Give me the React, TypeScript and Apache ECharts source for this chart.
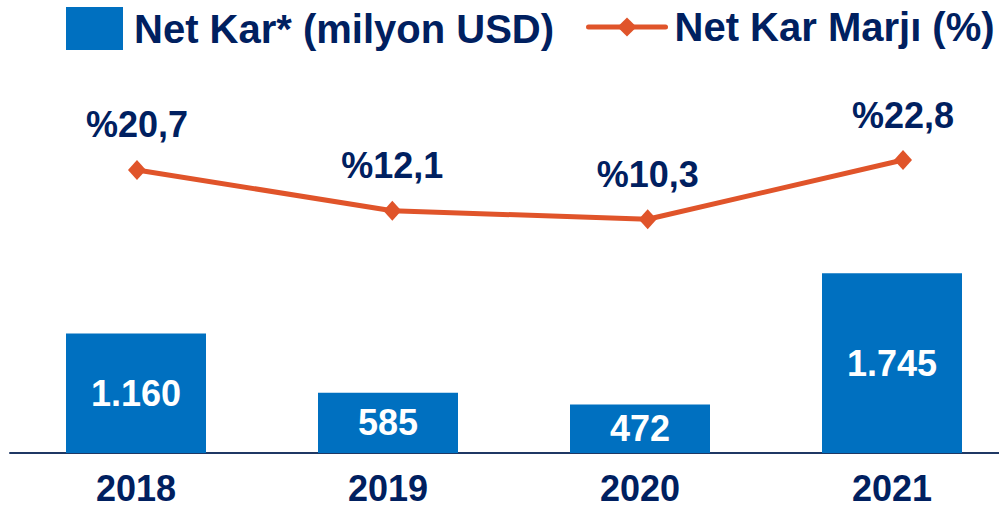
import React, { useEffect, useRef } from "react";
import * as echarts from "echarts";

const years = ["2018", "2019", "2020", "2021"];
const netKar = [1160, 585, 472, 1745];
const netKarMarji = [20.7, 12.1, 10.3, 22.8];
const barName = "Net Kar* (milyon USD)";
const lineName = "Net Kar Marjı (%)";

const NAVY = "#002060";
const BLUE = "#0070C0";
const ORANGE = "#E0542A";
const FONT = "'Liberation Sans', Arial, sans-serif";
const CHART_W = 1040;

const fmtThousands = (v: number) =>
  String(Math.round(v)).replace(/\B(?=(\d{3})+(?!\d))/g, ".");
const fmtPct = (v: number) => "%" + v.toFixed(1).replace(".", ",");

export default function App() {
  const ref = useRef<HTMLDivElement>(null);
  useEffect(() => {
    if (!ref.current) return;
    const chart = echarts.init(ref.current, null, { renderer: "svg" });
    chart.setOption({
      animation: false,
      backgroundColor: "#ffffff",
      textStyle: { fontFamily: FONT },
      legend: [
        {
          data: [{ name: barName, icon: "rect" }],
          left: 66,
          top: 7,
          padding: 0,
          itemWidth: 57,
          itemHeight: 43,
          selectedMode: false,
          textStyle: {
            fontFamily: FONT,
            fontSize: 40,
            fontWeight: "bold",
            color: NAVY,
            padding: [0, 0, 0, 6],
          },
        },
        {
          data: [lineName],
          left: 586,
          top: 7,
          padding: 0,
          itemWidth: 77,
          itemHeight: 24,
          selectedMode: false,
          lineStyle: { width: 5, cap: "round", color: ORANGE },
          textStyle: {
            fontFamily: FONT,
            fontSize: 40,
            fontWeight: "bold",
            color: NAVY,
            padding: [0, 0, 0, 4],
          },
        },
      ],
      grid: [
        { left: 10, right: CHART_W - 1018, top: 60, bottom: 55 },
        { left: 9.3, right: CHART_W - 1030.7, top: 60, bottom: 55 },
      ],
      xAxis: [
        {
          type: "category",
          gridIndex: 0,
          data: years,
          axisTick: { show: false },
          axisLine: { lineStyle: { color: "#1F3864", width: 2 } },
          axisLabel: {
            margin: 20,
            lineHeight: 30,
            fontFamily: FONT,
            fontSize: 36,
            fontWeight: "bold",
            color: NAVY,
          },
        },
        {
          type: "category",
          gridIndex: 1,
          data: years,
          show: false,
        },
      ],
      yAxis: [
        { type: "value", gridIndex: 0, min: 0, max: 3815, show: false, splitLine: { show: false } },
        { type: "value", gridIndex: 1, min: -39.06, max: 43.92, show: false, splitLine: { show: false } },
      ],
      series: [
        {
          name: barName,
          type: "bar",
          xAxisIndex: 0,
          yAxisIndex: 0,
          data: netKar,
          barWidth: 140,
          itemStyle: { color: BLUE },
          label: {
            show: true,
            position: "inside",
            fontFamily: FONT,
            fontSize: 36,
            fontWeight: "bold",
            color: "#ffffff",
            formatter: (p: any) => fmtThousands(p.value),
          },
        },
        {
          name: lineName,
          type: "line",
          xAxisIndex: 1,
          yAxisIndex: 1,
          data: netKarMarji,
          clip: false,
          symbol: "diamond",
          symbolSize: [18, 20],
          itemStyle: { color: ORANGE },
          lineStyle: { color: ORANGE, width: 5, cap: "round" },
          label: {
            show: true,
            position: "top",
            distance: 17,
            fontFamily: FONT,
            fontSize: 36,
            fontWeight: "bold",
            color: NAVY,
            formatter: (p: any) => fmtPct(p.value),
          },
        },
      ],
    });
    return () => chart.dispose();
  }, []);
  return (
    <div
      style={{
        position: "fixed",
        left: 0,
        top: 0,
        width: 999,
        height: 508,
        overflow: "hidden",
        background: "#ffffff",
      }}
    >
      <div ref={ref} style={{ width: CHART_W, height: 508 }} />
    </div>
  );
}
